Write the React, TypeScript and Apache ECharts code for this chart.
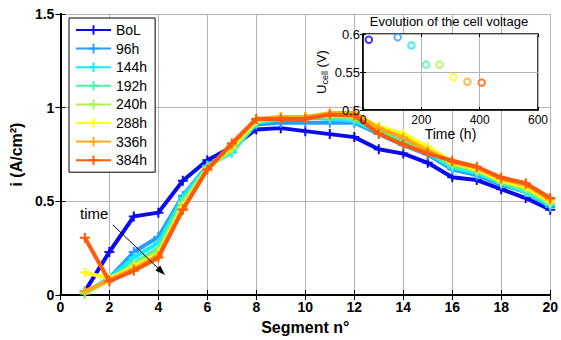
import React, { useEffect, useRef } from "react";
import * as echarts from "echarts";

const segments = [1, 2, 3, 4, 5, 6, 7, 8, 9, 10, 11, 12, 13, 14, 15, 16, 17, 18, 19, 20];
const seriesNames = ["BoL", "96h", "144h", "192h", "240h", "288h", "336h", "384h"];
const seriesColors = ["#0a0af0", "#2a9cff", "#10ecff", "#48f5a8", "#a6f550", "#ffff10", "#ffa818", "#ff5a0a"];

const bol = [0.02, 0.23, 0.42, 0.44, 0.61, 0.72, 0.79, 0.884, 0.891, 0.875, 0.859, 0.843, 0.778, 0.755, 0.706, 0.629, 0.614, 0.565, 0.518, 0.456];
const h96 = [0.01, 0.09, 0.23, 0.31, 0.53, 0.69, 0.77, 0.91, 0.92, 0.92, 0.92, 0.92, 0.86, 0.8, 0.75, 0.67, 0.64, 0.59, 0.55, 0.47];
const h144 = [0.01, 0.09, 0.2, 0.28, 0.52, 0.69, 0.76, 0.92, 0.94, 0.95, 0.94, 0.93, 0.87, 0.81, 0.76, 0.68, 0.65, 0.6, 0.55, 0.48];
const h192 = [0.01, 0.08, 0.17, 0.25, 0.5, 0.68, 0.77, 0.92, 0.95, 0.95, 0.95, 0.94, 0.88, 0.83, 0.77, 0.69, 0.66, 0.6, 0.56, 0.49];
const h240 = [0.01, 0.08, 0.16, 0.23, 0.49, 0.68, 0.78, 0.93, 0.95, 0.95, 0.96, 0.95, 0.89, 0.85, 0.78, 0.7, 0.67, 0.61, 0.57, 0.49];
const h288 = [0.12, 0.09, 0.15, 0.22, 0.47, 0.67, 0.79, 0.93, 0.95, 0.95, 0.96, 0.96, 0.9, 0.86, 0.79, 0.71, 0.67, 0.61, 0.58, 0.5];
const h336 = [0.02, 0.08, 0.14, 0.21, 0.46, 0.67, 0.8, 0.94, 0.95, 0.95, 0.97, 0.975, 0.89, 0.84, 0.77, 0.71, 0.68, 0.62, 0.59, 0.51];
const h384 = [0.306, 0.074, 0.13, 0.2, 0.456, 0.67, 0.81, 0.94, 0.94, 0.94, 0.963, 0.958, 0.861, 0.803, 0.755, 0.717, 0.685, 0.627, 0.597, 0.518];
const allSeries = [bol, h96, h144, h192, h240, h288, h336, h384];

const insetTimes = [20, 119, 166, 216, 262, 310, 358, 407];
const insetVoltages = [0.5925, 0.5957, 0.585, 0.5597, 0.5597, 0.5434, 0.5372, 0.536];

const FONT = "Liberation Sans, Arial, Helvetica, sans-serif";
const PLUS = "path://M4,0H6V4H10V6H6V10H4V6H0V4H4Z";

export default function App() {
  const ref = useRef<HTMLDivElement>(null);
  useEffect(() => {
    if (!ref.current) return;
    const chart = echarts.init(ref.current, null, { renderer: "svg" });

    const mainLines = allSeries.map((vals, i) => ({
      name: seriesNames[i],
      type: "line",
      xAxisIndex: 0,
      yAxisIndex: 0,
      data: segments.map((s, j) => [s, vals[j]]),
      lineStyle: { width: 4, color: seriesColors[i] },
      itemStyle: { color: seriesColors[i] },
      symbol: PLUS,
      symbolSize: 10,
      showSymbol: true,
      z: 2 + i * 0.01,
    }));

    const tickStyle = { show: true, inside: true, length: 5, lineStyle: { color: "#000", width: 1 } };
    const axisLine = { show: true, lineStyle: { color: "#000", width: 2 } };
    const split = { show: true, lineStyle: { color: "#b4b4b4", width: 1 } };
    const insetTick = { show: true, inside: true, length: 3, lineStyle: { color: "#000" } };

    const option: any = {
      animation: false,
      backgroundColor: "#fff",
      textStyle: { fontFamily: FONT },
      grid: [
        { left: 58, top: 14, right: 5, bottom: 42, show: false },
        {
          left: 363, top: 34, width: 175, height: 76, show: true,
          backgroundColor: "#fff", borderColor: "#000", borderWidth: 1.5, z: 5,
        },
      ],
      legend: {
        data: seriesNames,
        orient: "vertical",
        left: 69,
        top: 18,
        padding: [5, 8, 5, 6],
        itemWidth: 35,
        itemHeight: 12,
        itemGap: 4.6,
        backgroundColor: "#fff",
        borderColor: "#000",
        borderWidth: 1,
        textStyle: { fontFamily: FONT, fontSize: 14, color: "#000", lineHeight: 14 },
        z: 10,
      },
      xAxis: [
        {
          type: "value", gridIndex: 0, min: 0, max: 20, interval: 2,
          axisLine, axisTick: tickStyle, splitLine: split,
          axisLabel: { color: "#000", fontSize: 14, fontWeight: "bold", fontFamily: FONT, margin: 5 },
          name: "Segment n°", nameLocation: "middle", nameGap: 21,
          nameTextStyle: { color: "#000", fontSize: 16, fontWeight: "bold", fontFamily: FONT },
        },
        {
          type: "value", gridIndex: 0, min: 0, max: 20, interval: 2, position: "top",
          axisLine: { show: true, lineStyle: { color: "#000", width: 1.5 } },
          axisTick: tickStyle, axisLabel: { show: false }, splitLine: { show: false },
        },
        {
          type: "value", gridIndex: 1, min: 0, max: 600, interval: 200, z: 6,
          axisLine: { show: true, lineStyle: { color: "#000", width: 1.5 } },
          axisTick: insetTick,
          splitLine: split,
          axisLabel: { color: "#000", fontSize: 12, fontFamily: FONT, margin: 4 },
          name: "Time (h)", nameLocation: "middle", nameGap: 16,
          nameTextStyle: { color: "#000", fontSize: 14, fontFamily: FONT },
        },
        {
          type: "value", gridIndex: 1, min: 0, max: 600, interval: 200, position: "top", z: 6,
          axisLine: { show: false },
          axisTick: insetTick,
          axisLabel: { show: false }, splitLine: { show: false },
        },
      ],
      yAxis: [
        {
          type: "value", gridIndex: 0, min: 0, max: 1.5, interval: 0.5,
          axisLine, axisTick: tickStyle, splitLine: split,
          axisLabel: { color: "#000", fontSize: 14, fontWeight: "bold", fontFamily: FONT, margin: 6 },
          name: "i (A/cm²)", nameLocation: "middle", nameGap: 36, nameRotate: 90,
          nameTextStyle: { color: "#000", fontSize: 16, fontWeight: "bold", fontFamily: FONT },
        },
        {
          type: "value", gridIndex: 0, min: 0, max: 1.5, interval: 0.5, position: "right",
          axisLine: { show: true, lineStyle: { color: "#000", width: 2 } },
          axisTick: tickStyle, axisLabel: { show: false }, splitLine: { show: false },
        },
        {
          type: "value", gridIndex: 1, min: 0.5, max: 0.6, interval: 0.05, z: 6,
          axisLine: { show: true, lineStyle: { color: "#000", width: 1.5 } },
          axisTick: insetTick,
          splitLine: split,
          axisLabel: { color: "#000", fontSize: 13, fontFamily: FONT, margin: 3 },
          name: "{u|U}{s|cell}{u| (V)}", nameLocation: "middle", nameGap: 34, nameRotate: 90,
          nameTextStyle: {
            color: "#000", fontFamily: FONT,
            rich: {
              u: { fontSize: 13, fontFamily: FONT, color: "#000" },
              s: { fontSize: 9, fontFamily: FONT, color: "#000", verticalAlign: "bottom", padding: [6, 0, 0, 0] },
            },
          },
        },
        {
          type: "value", gridIndex: 1, min: 0.5, max: 0.6, interval: 0.05, position: "right", z: 6,
          axisLine: { show: false },
          axisTick: insetTick,
          axisLabel: { show: false }, splitLine: { show: false },
        },
      ],
      series: [
        ...mainLines,
        {
          type: "scatter",
          xAxisIndex: 2,
          yAxisIndex: 2,
          symbol: "emptyCircle",
          symbolSize: 6.5,
          z: 7,
          data: insetTimes.map((t, i) => ({
            value: [t, insetVoltages[i]],
            itemStyle: { color: seriesColors[i], borderColor: seriesColors[i], borderWidth: 2 },
          })),
        },
      ],
      graphic: [
        {
          type: "text", x: 449, y: 21, z: 20,
          style: { text: "Evolution of the cell voltage", fill: "#000", font: `13px ${FONT}`, align: "center", verticalAlign: "middle" },
        },
        {
          type: "text", x: 80, y: 206, z: 20,
          style: { text: "time", fill: "#000", font: `15px ${FONT}` },
        },
        {
          type: "line", z: 20,
          shape: { x1: 113, y1: 225, x2: 162, y2: 272 },
          style: { stroke: "#000", lineWidth: 1 },
        },
        {
          type: "polygon", z: 20,
          shape: { points: [[165, 275], [155.4, 270.6], [160.2, 265.6]] },
          style: { fill: "#000" },
        },
      ],
    };
    chart.setOption(option);
    return () => chart.dispose();
  }, []);
  return <div ref={ref} style={{ position: "absolute", left: 0, top: 0, width: 561, height: 340 }} />;
}
